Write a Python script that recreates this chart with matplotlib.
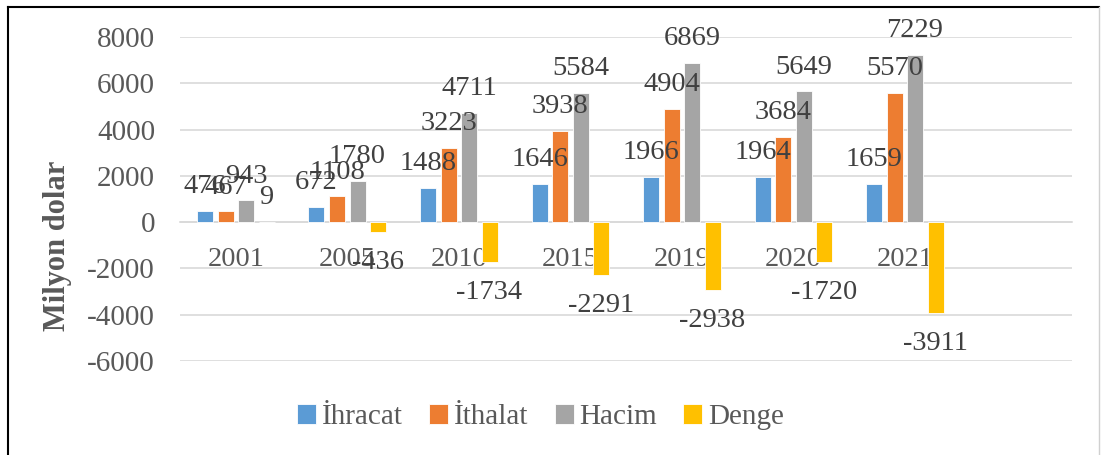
import matplotlib.pyplot as plt
import numpy as np
from matplotlib.lines import Line2D

# Veriler
years = ["2001", "2005", "2010", "2015", "2019", "2020", "2021"]
ihracat = [476, 672, 1488, 1646, 1966, 1964, 1659]
ithalat = [467, 1108, 3223, 3938, 4904, 3684, 5570]
hacim = [943, 1780, 4711, 5584, 6869, 5649, 7229]
denge = [9, -436, -1734, -2291, -2938, -1720, -3911]

series_names = ["İhracat", "İthalat", "Hacim", "Denge"]
colors = ["#5B9BD5", "#ED7D31", "#A5A5A5", "#FFC000"]

plt.rcParams["font.family"] = ["Liberation Serif", "DejaVu Serif"]
plt.rcParams["font.size"] = 21
plt.rcParams["axes.unicode_minus"] = False

fig = plt.figure(figsize=(11.01, 4.55), dpi=100)
ax = fig.add_axes([0.1635, 0.2066, 0.8102, 0.7121])

x = np.arange(len(years))
width = 0.1435
step = 0.184
all_series = [ihracat, ithalat, hacim, denge]

for k, (vals, name, col) in enumerate(zip(all_series, series_names, colors)):
    pos = x + (k - 1.5) * step
    ax.bar(pos, vals, width, color=col, label=name,
           edgecolor="white", linewidth=0.6, zorder=3)
    # Veri etiketleri
    for xp, v in zip(pos, vals):
        if v >= 0:
            ax.annotate(str(v), (xp, v), xytext=(0, 8.5), textcoords="offset points",
                        ha="center", va="bottom", color="#404040", fontsize=20.5, zorder=5)
        else:
            ax.annotate(str(v), (xp, v), xytext=(0, -13), textcoords="offset points",
                        ha="center", va="top", color="#404040", fontsize=20.5, zorder=5)

# Eksenler
ax.set_xlim(-0.5, 7.5)
ax.set_ylim(-6000, 8000)
ax.set_yticks(np.arange(-6000, 8001, 2000))
ax.grid(axis="y", color="#D9D9D9", linewidth=1.2, zorder=0)
ax.set_axisbelow(True)

for s in ["top", "right", "left"]:
    ax.spines[s].set_visible(False)
ax.spines["bottom"].set_position(("data", 0))
ax.spines["bottom"].set_color("#D9D9D9")
ax.spines["bottom"].set_linewidth(1.2)

ax.set_xticks(x)
ax.set_xticklabels(years)
ax.tick_params(axis="x", length=0, pad=18, colors="#595959", labelsize=20.5)
ax.tick_params(axis="y", length=0, pad=18, colors="#595959")

fig.text(0.052, 0.459, "Milyon dolar", rotation=90, ha="center", va="center",
         fontweight="bold", color="#595959", fontsize=22)

leg = fig.legend(loc="center", bbox_to_anchor=(0.491, 0.083), ncol=4, frameon=False,
                 handlelength=0.65, handleheight=0.65, handletextpad=0.2,
                 columnspacing=0.9, labelcolor="#595959")

# Çerçeve
fig.add_artist(Line2D([0.0075, 0.0075], [0, 0.985], color="black", linewidth=1.5,
                      transform=fig.transFigure))
fig.add_artist(Line2D([0.0075, 0.9985], [0.985, 0.985], color="black", linewidth=1.5,
                      transform=fig.transFigure))
fig.add_artist(Line2D([0.9985, 0.9985], [0, 0.985], color="#D0D0D0", linewidth=1,
                      transform=fig.transFigure))

fig.savefig("out.png", dpi=100)
